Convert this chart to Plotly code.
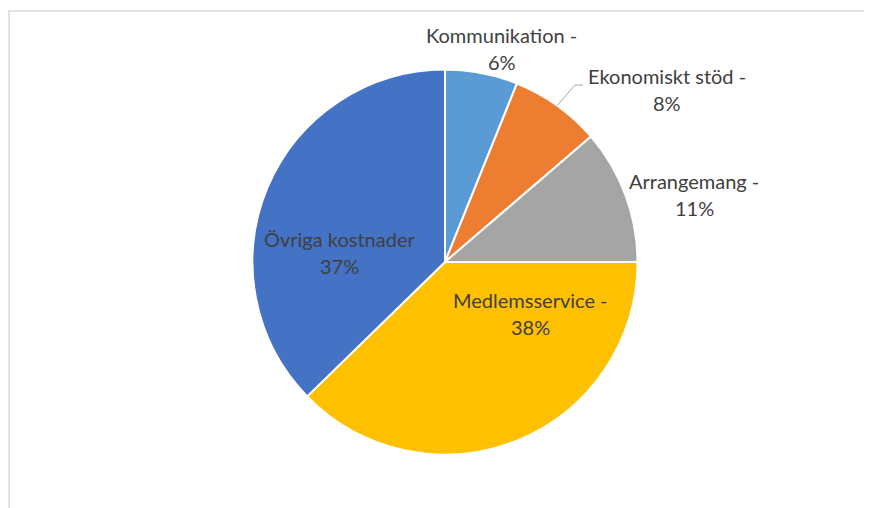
import math
import plotly.graph_objects as go

categories = ["Kommunikation", "Ekonomiskt stöd", "Arrangemang", "Medlemsservice", "Övriga kostnader"]
values = [6.1, 7.6, 11.3, 37.7, 37.3]
label_suffix = [" -", " -", " -", " -", ""]
colors = ["#5B9BD5", "#ED7D31", "#A5A5A5", "#FFC000", "#4472C4"]

OFF = 8                      # browser body margin
W, H = 872 - OFF, 508 - OFF  # figure size
CX, CY, R = 445 - OFF, 262 - OFF, 192.5  # pie centre / radius in figure pixels

# label placement (angle from 12 o'clock clockwise in degrees, radius factor)
label_pos = [(14.9, 1.15), (52.2, 1.46), (74.9, 1.34), (121.2, 0.52), (275.0, 0.55)]
LINE_GAP = 27

def px2paper(x, y):
    return x / W, 1 - y / H

fig = go.Figure()
fig.add_trace(go.Pie(
    labels=categories, values=values, sort=False, direction="clockwise", rotation=0,
    marker=dict(colors=colors, line=dict(color="white", width=2)),
    textinfo="none", hoverinfo="label+percent", showlegend=False,
    domain=dict(x=[(CX - R) / W, (CX + R) / W], y=[(H - CY - R) / H, (H - CY + R) / H]),
))

total = sum(values)
font = dict(family="Lato, Open Sans, sans-serif", size=20, color="#404040")
annotations = []
for cat, v, suf, (ang, rf) in zip(categories, values, label_suffix, label_pos):
    pct = round(100 * v / total)
    a = math.radians(ang)
    px = CX + rf * R * math.sin(a)
    py = CY - rf * R * math.cos(a)
    for txt, dy in ((f"{cat}{suf}", -LINE_GAP / 2), (f"{pct}%", LINE_GAP / 2)):
        xx, yy = px2paper(px, py + dy)
        annotations.append(dict(
            x=xx, y=yy, xref="paper", yref="paper", text=txt, showarrow=False,
            font=font, xanchor="center", yanchor="middle",
        ))

# leader line for Ekonomiskt stöd from slice edge at its mid-angle
cum = 0
mids = []
for v in values:
    mids.append((cum + v / 2) / total * 360)
    cum += v
ma = math.radians(mids[1])
ex, ey = CX + R * math.sin(ma), CY - R * math.cos(ma)
p0 = px2paper(ex, ey)
p1 = px2paper(575 - OFF, 85 - OFF)
p2 = px2paper(583 - OFF, 85 - OFF)
shapes = [
    dict(type="path", xref="paper", yref="paper",
         path=f"M {p0[0]},{p0[1]} L {p1[0]},{p1[1]} L {p2[0]},{p2[1]}",
         line=dict(color="#A6A6A6", width=1)),
    dict(type="rect", xref="paper", yref="paper",
         x0=(8.5 - OFF) / W + 0.0007, x1=1.05, y0=-0.05, y1=1 - (11 - OFF) / H,
         line=dict(color="#D9D9D9", width=1.5)),
]

fig.update_layout(
    width=W, height=H, margin=dict(l=0, r=0, t=0, b=0),
    paper_bgcolor="white", plot_bgcolor="white",
    annotations=annotations, shapes=shapes,
)
fig.write_html("out.html")
